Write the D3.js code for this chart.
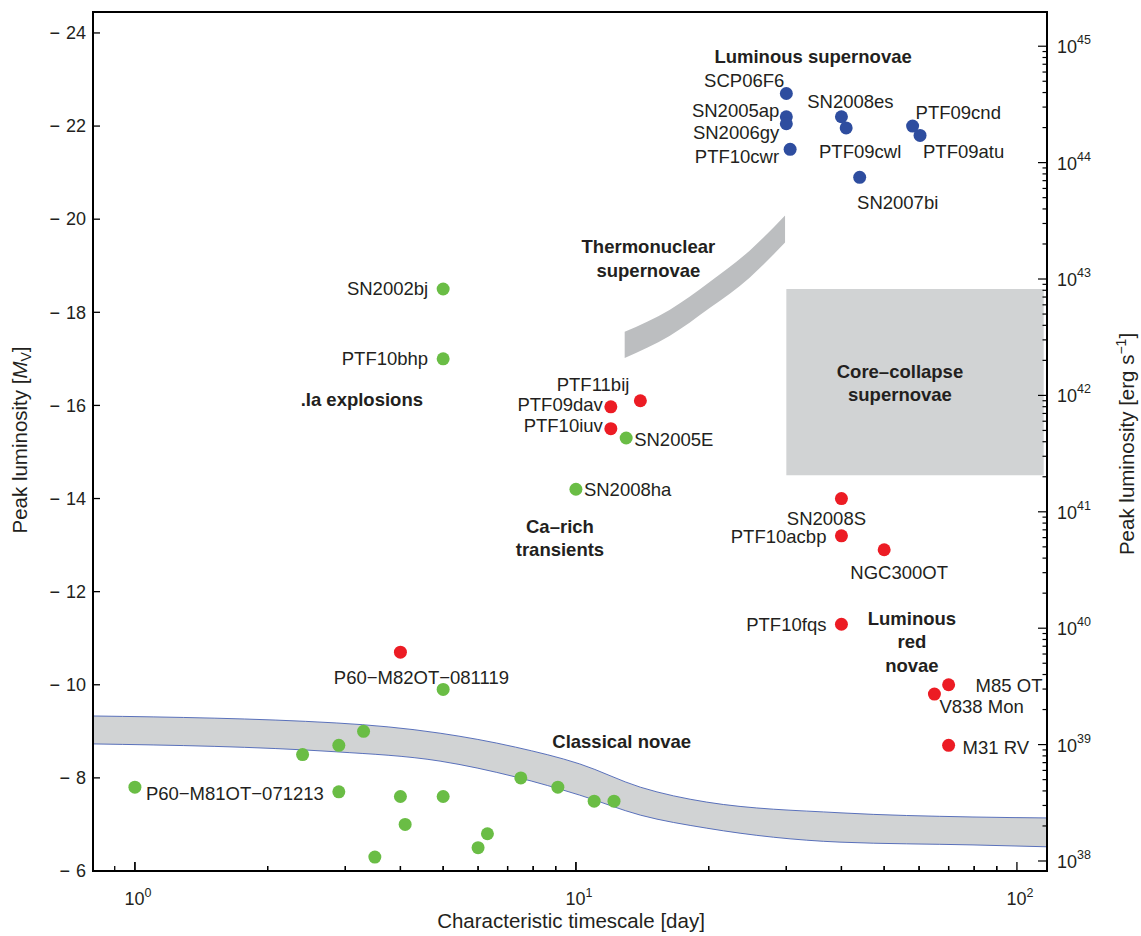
<!DOCTYPE html>
<html><head><meta charset="utf-8">
<script src="https://cdn.jsdelivr.net/npm/d3@7"></script>
<style>body{margin:0;background:#fff} svg{font-family:"Liberation Sans",Arial,Helvetica,sans-serif}</style>
</head><body><svg id="c" width="1141" height="936"></svg>
<script>
// ---------------- DATA ----------------
// Luminous supernovae (blue)
const lumNames = ["SCP06F6","SN2005ap","SN2006gy","PTF10cwr","SN2008es","PTF09cwl","PTF09cnd","PTF09atu","SN2007bi"];
const lumT     = [30, 30, 30, 30.6, 40, 41, 58, 60.3, 44];
const lumM     = [-22.7, -22.2, -22.05, -21.5, -22.2, -21.96, -22.0, -21.8, -20.9];
// Red transients
const redNames = ["PTF11bij","PTF09dav","PTF10iuv","SN2008S","PTF10acbp","NGC300OT","PTF10fqs","M85 OT","V838 Mon","M31 RV","P60\u2212M82OT\u2212081119"];
const redT     = [14, 12, 12, 40, 40, 50, 40, 70, 65, 70, 4];
const redM     = [-16.1, -15.97, -15.5, -14.0, -13.2, -12.9, -11.3, -10.0, -9.8, -8.7, -10.7];
// Green transients (labelled)
const greenNames = ["SN2002bj","PTF10bhp","SN2005E","SN2008ha","P60\u2212M81OT\u2212071213"];
const greenT     = [5, 5, 13, 10, 1];
const greenM     = [-18.5, -17.0, -15.3, -14.2, -7.8];
// Green novae (unlabelled)
const novaT = [5, 2.4, 2.9, 3.3, 2.9, 4, 5, 4.1, 3.5, 7.5, 9.1, 11.0, 12.2, 6.0, 6.3];
const novaM = [-9.9, -8.5, -8.7, -9.0, -7.7, -7.6, -7.6, -7.0, -6.3, -8.0, -7.8, -7.5, -7.5, -6.5, -6.8];
// Classical novae band
const bandT     = [0.8, 2.86, 4.92, 7.3, 10.2, 14, 19.8, 39.7, 79.5, 117];
const bandUpper = [-9.33, -9.18, -8.96, -8.66, -8.30, -7.80, -7.48, -7.25, -7.16, -7.14];
const bandLower = [-8.73, -8.56, -8.36, -8.02, -7.63, -7.20, -6.92, -6.62, -6.56, -6.52];
// Thermonuclear supernovae band
const thermoT     = [12.9, 16.3, 20.1, 24.8, 29.8];
const thermoUpper = [-17.58, -18.05, -18.65, -19.33, -20.08];
const thermoLower = [-17.02, -17.49, -18.09, -18.75, -19.50];
// Core-collapse supernovae box
const ccT = [30, 115];
const ccM = [-18.5, -14.5];
// Region annotations
const regionText = [["Luminous supernovae"], ["Thermonuclear","supernovae"], ["Core\u2013collapse","supernovae"], [".Ia explosions"], ["Ca\u2013rich","transients"], ["Luminous","red","novae"], ["Classical novae"]];
const regionT = [34.5, 14.6, 54.3, 3.27, 9.2, 57.8, 12.7];
const regionM = [-23.49, -19.15, -16.48, -16.12, -13.15, -10.92, -8.79];
// Ticks
const magTicks = [-24, -22, -20, -18, -16, -14, -12, -10, -8, -6];
const timeDecades = [0, 1, 2];
const lumDecades = [38, 39, 40, 41, 42, 43, 44, 45];

// ---------------- LAYOUT ----------------
const L = 93, R = 1047, T = 12, B = 871;
const svg = d3.select("#c");
const x = d3.scaleLog().domain([0.8035, 117]).range([L, R]);
const y = d3.scaleLinear().domain([-6, -24.45]).range([B, T]);
// right axis: erg/s, M = -6.215 at 1e38, 2.5 mag per decade
const magToLogL = m => 38 + (-m - 6.215) / 2.5;
const yR = d3.scaleLog().domain([Math.pow(10, magToLogL(-6)), Math.pow(10, magToLogL(-24.45))]).range([B, T]);

const TXT = "#231f20";
const BLUE = "#2e4d9f", RED = "#ec1c24", GREEN = "#6abd45";
const GRAY = "#d1d3d4", DGRAY = "#bcbec0";

svg.append("clipPath").attr("id", "clip").append("rect").attr("x", L).attr("y", T).attr("width", R - L).attr("height", B - T);
const plot = svg.append("g").attr("clip-path", "url(#clip)");

// core-collapse box
plot.append("rect").attr("x", x(ccT[0])).attr("y", y(ccM[0]))
  .attr("width", x(ccT[1]) - x(ccT[0])).attr("height", y(ccM[1]) - y(ccM[0])).attr("fill", GRAY);

// thermonuclear band
const thermoArea = d3.area().x((d, i) => x(thermoT[i])).y0((d, i) => y(thermoLower[i])).y1((d, i) => y(thermoUpper[i])).curve(d3.curveMonotoneX);
plot.append("path").attr("d", thermoArea(thermoT)).attr("fill", DGRAY);

// classical novae band
const bandArea = d3.area().x((d, i) => x(bandT[i])).y0((d, i) => y(bandLower[i])).y1((d, i) => y(bandUpper[i])).curve(d3.curveMonotoneX);
plot.append("path").attr("d", bandArea(bandT)).attr("fill", GRAY);
const lineU = d3.line().x((d, i) => x(bandT[i])).y((d, i) => y(bandUpper[i])).curve(d3.curveMonotoneX);
const lineLo = d3.line().x((d, i) => x(bandT[i])).y((d, i) => y(bandLower[i])).curve(d3.curveMonotoneX);
plot.append("path").attr("d", lineU(bandT)).attr("fill", "none").attr("stroke", "#4a63b5").attr("stroke-width", 0.9);
plot.append("path").attr("d", lineLo(bandT)).attr("fill", "none").attr("stroke", "#4a63b5").attr("stroke-width", 0.9);

// points
const R0 = 6.5;
function dots(ts, ms, col) {
  plot.append("g").selectAll("circle").data(ts).join("circle")
    .attr("cx", (d, i) => x(ts[i])).attr("cy", (d, i) => y(ms[i])).attr("r", R0).attr("fill", col);
}
dots(novaT, novaM, GREEN);
dots(greenT, greenM, GREEN);
dots(redT, redM, RED);
dots(lumT, lumM, BLUE);

// point labels: [anchor, dx, dy] (styling/placement only)
const place = {
  "SCP06F6": ["end", -2, -13], "SN2005ap": ["end", -7, -6], "SN2006gy": ["end", -7, 9], "PTF10cwr": ["end", -11, 7],
  "SN2008es": ["middle", 9, -15], "PTF09cwl": ["middle", 14, 24], "PTF09cnd": ["start", 3, -14], "PTF09atu": ["start", 3, 16],
  "SN2007bi": ["middle", 38, 25],
  "PTF11bij": ["end", -11, -16], "PTF09dav": ["end", -8, -2], "PTF10iuv": ["end", -8, -3], "SN2008S": ["middle", -15, 20],
  "PTF10acbp": ["end", -15, 1], "NGC300OT": ["middle", 15, 23], "PTF10fqs": ["end", -15, 0], "M85 OT": ["start", 27, 1],
  "V838 Mon": ["start", 5, 12], "M31 RV": ["start", 14, 2], "P60\u2212M82OT\u2212081119": ["middle", 21, 25],
  "SN2002bj": ["end", -15, 0], "PTF10bhp": ["end", -15, 0], "SN2005E": ["start", 8, 2], "SN2008ha": ["start", 8, 0],
  "P60\u2212M81OT\u2212071213": ["start", 11, 6]
};
function labels(names, ts, ms) {
  names.forEach((n, i) => {
    const p = place[n];
    svg.append("text").attr("x", x(ts[i]) + p[1]).attr("y", y(ms[i]) + p[2]).attr("dy", "0.35em")
      .attr("text-anchor", p[0]).attr("font-size", 18.5).attr("fill", TXT).text(n);
  });
}
labels(lumNames, lumT, lumM);
labels(redNames, redT, redM);
labels(greenNames, greenT, greenM);

// region annotations
regionText.forEach((lines, i) => {
  const cx = x(regionT[i]), cy = y(regionM[i]);
  const lh = 23.5, n = lines.length;
  lines.forEach((s, j) => {
    svg.append("text").attr("x", cx).attr("y", cy + (j - (n - 1) / 2) * lh).attr("dy", "0.35em")
      .attr("text-anchor", "middle").attr("font-size", 18.5).attr("font-weight", "bold").attr("fill", TXT).text(s);
  });
});

// frame
svg.append("rect").attr("x", L).attr("y", T).attr("width", R - L).attr("height", B - T)
  .attr("fill", "none").attr("stroke", "#000").attr("stroke-width", 2);

// left axis ticks
magTicks.forEach(m => {
  svg.append("line").attr("x1", L).attr("x2", L + 7).attr("y1", y(m)).attr("y2", y(m)).attr("stroke", "#000").attr("stroke-width", 1.3);
  const t = svg.append("text").attr("x", 86).attr("y", y(m)).attr("dy", "0.35em").attr("text-anchor", "end")
    .attr("font-size", 18).attr("fill", TXT);
  t.append("tspan").text("\u2212");
  t.append("tspan").attr("dx", 6).text(Math.abs(m));
});

// bottom axis ticks
timeDecades.forEach(dcd => {
  for (let k = 1; k <= 9; k++) {
    [k * Math.pow(10, dcd), k * Math.pow(10, dcd - 1)].forEach(val => {
      if (val < x.domain()[0] || val > x.domain()[1]) return;
      const major = k === 1;
      svg.append("line").attr("x1", x(val)).attr("x2", x(val)).attr("y1", B).attr("y2", B - (major ? 9 : 5))
        .attr("stroke", "#000").attr("stroke-width", 1.3);
    });
  }
  const t = svg.append("text").attr("x", x(Math.pow(10, dcd)) + 3).attr("y", 905).attr("text-anchor", "middle")
    .attr("font-size", 18).attr("fill", TXT);
  t.append("tspan").text("10");
  t.append("tspan").attr("dy", -8).attr("font-size", 12.5).text(dcd);
});

// right axis ticks
lumDecades.forEach(n => {
  for (let k = 1; k <= 9; k++) {
    const v = k * Math.pow(10, n);
    const yy = yR(v);
    if (yy < T || yy > B) continue;
    svg.append("line").attr("x1", R).attr("x2", R - (k === 1 ? 9 : 4.5)).attr("y1", yy).attr("y2", yy)
      .attr("stroke", "#000").attr("stroke-width", 1.2);
  }
  const t = svg.append("text").attr("x", 1057).attr("y", yR(Math.pow(10, n)) + 7).attr("font-size", 18).attr("fill", TXT);
  t.append("tspan").text("10");
  t.append("tspan").attr("dy", -9).attr("font-size", 12.5).text(n);
});

// axis titles
svg.append("text").attr("x", 571).attr("y", 928).attr("text-anchor", "middle").attr("font-size", 20.5).attr("fill", TXT)
  .text("Characteristic timescale [day]");
const yl = svg.append("text").attr("transform", "translate(27,440) rotate(-90)").attr("text-anchor", "middle").attr("font-size", 20.5).attr("fill", TXT);
yl.append("tspan").text("Peak luminosity [");
yl.append("tspan").attr("font-style", "italic").text("M");
yl.append("tspan").attr("dy", 4).attr("font-size", 14).text("V");
yl.append("tspan").attr("dy", -4).text("]");
const yr = svg.append("text").attr("transform", "translate(1134,444) rotate(-90)").attr("text-anchor", "middle").attr("font-size", 20.5).attr("fill", TXT);
yr.append("tspan").text("Peak luminosity [erg s");
yr.append("tspan").attr("dy", -8).attr("font-size", 14).text("\u22121");
yr.append("tspan").attr("dy", 8).text("]");
</script></body></html>
